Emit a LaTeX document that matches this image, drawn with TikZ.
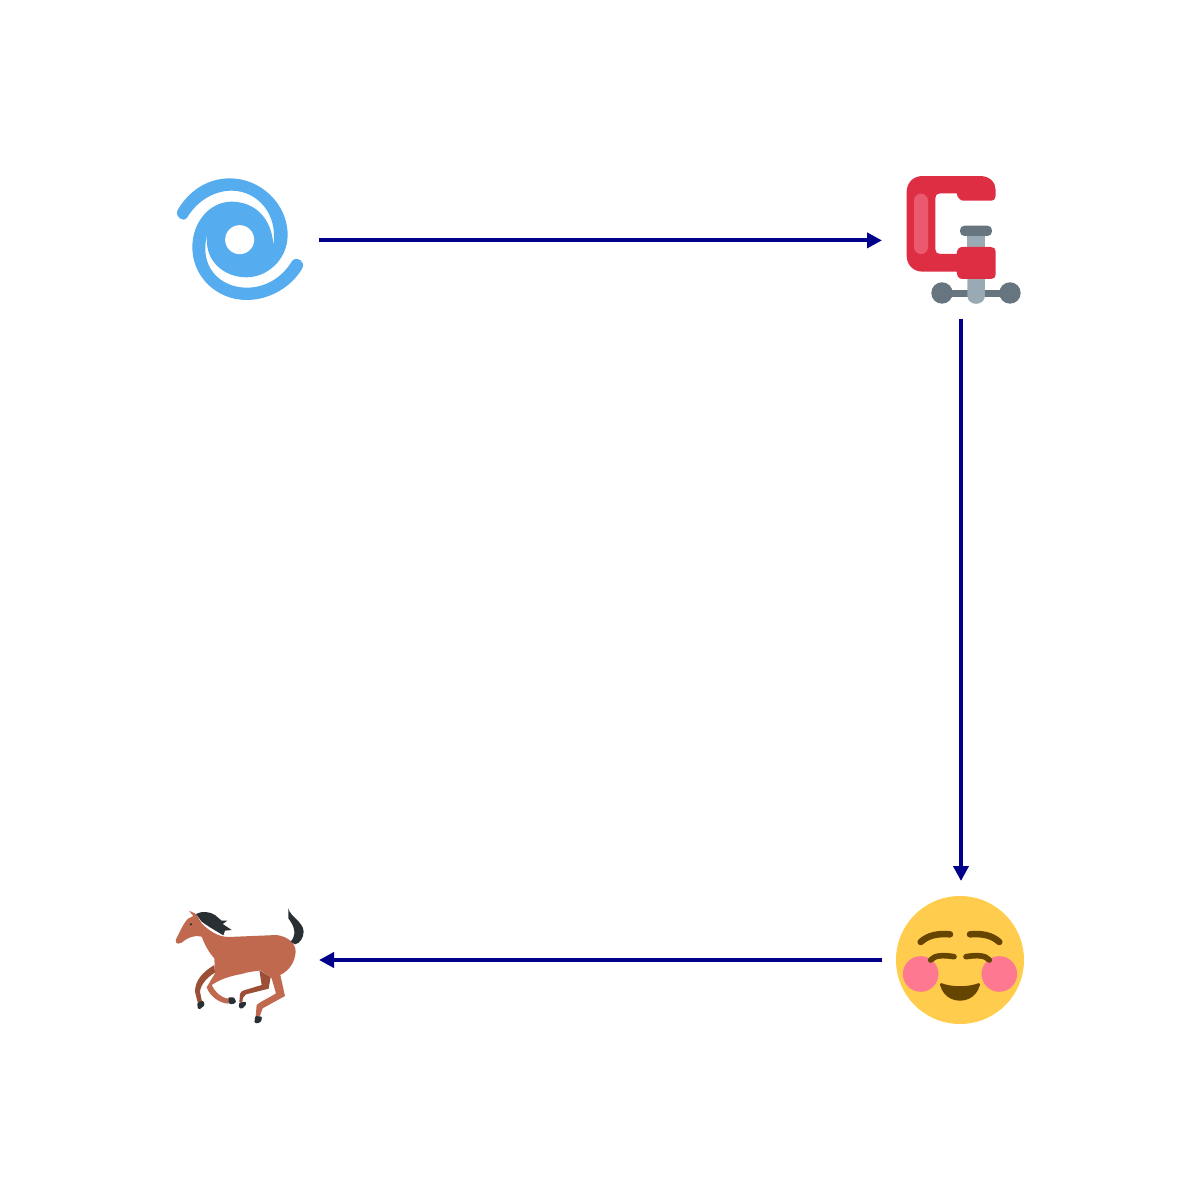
\documentclass[tikz,border=0pt]{standalone}
\usetikzlibrary{arrows.meta,positioning}

\definecolor{cycloneblue}{HTML}{55ACEE}
\definecolor{clampred}{HTML}{DD2E44}
\definecolor{clamplight}{HTML}{EA596E}
\definecolor{steeldark}{HTML}{66757F}
\definecolor{steellight}{HTML}{99AAB5}
\definecolor{faceyellow}{HTML}{FFCC4D}
\definecolor{cheekpink}{HTML}{FF7892}
\definecolor{facebrown}{HTML}{664500}
\definecolor{horsebrown}{HTML}{C1694F}
\definecolor{horsedark}{HTML}{9B4F36}
\definecolor{hairblack}{HTML}{292F33}
\definecolor{linkblue}{RGB}{0,0,139}

\begin{document}
\begin{tikzpicture}[
    x=1pt,
    y=-1pt,
    >={Triangle[length=15pt,width=15pt]},
    emoji spot/.style={
        rectangle,
        outer sep=0pt,
        inner sep=0pt,
        minimum size=158pt
    },
    link/.style={
        ->,
        color=linkblue,
        line width=4pt
    },
    zoomed/.style={
        shift={(#1)},
        x=0.3333pt,
        y=-0.3333pt
    }
]

\useasboundingbox (0,0) rectangle (1200,1200);

% Emoji places
\node[emoji spot] (cyclone) at (240,240.4) {};
\node[emoji spot] (clamp) at (961,240.4) {};
\node[emoji spot] (blush) at (961,960) {};
\node[emoji spot] (horse) at (240,960) {};

% Cyclone
\begin{scope}[zoomed={160,160}]
    \fill[cycloneblue] (142,222) .. controls (130,300) and (190,352) .. (260,352)
        .. controls (320,352) and (383,300) .. (383,225)
        .. controls (383,130) and (300,55) .. (210,55)
        .. controls (140,55) and (85,95) .. (53,150)
        .. controls (43,170) and (70,190) .. (82,172)
        .. controls (110,125) and (160,92) .. (215,92)
        .. controls (290,92) and (355,160) .. (340,255)
        .. controls (335,170) and (280,125) .. (215,125)
        .. controls (150,125) and (97,185) .. (97,262)
        .. controls (97,350) and (170,420) .. (260,420)
        .. controls (330,420) and (395,380) .. (427,325)
        .. controls (437,305) and (412,287) .. (397,302)
        .. controls (365,355) and (315,383) .. (260,383)
        .. controls (180,383) and (115,320) .. (142,222) -- cycle;
    \fill[white] (239,239) circle[radius=14.5pt];
\end{scope}

% Clamp
\begin{scope}[zoomed={880,160}]
    \fill[steeldark] (186,399) circle[radius=10.7pt];
    \fill[steeldark] (390,399) circle[radius=10.7pt];
    \fill[steeldark] (186,389) rectangle (390,410);
    \fill[steellight] (262,225) rectangle (315,300);
    \fill[steellight] (262,340) -- (315,340) -- (315,406)
        .. controls (315,440) and (262,440) .. (262,406) -- cycle;
    \fill[steeldark, rounded corners=4.5pt] (240,197) rectangle (336,228);
    \fill[clampred] (128,48) -- (300,48)
        .. controls (330,48) and (347,68) .. (347,90) -- (347,108)
        .. controls (347,116) and (342,122) .. (332,122) -- (250,122)
        .. controls (240,122) and (232,112) .. (230,100) -- (180,100)
        .. controls (171,100) and (166,106) .. (166,114) -- (166,268)
        .. controls (166,276) and (171,282) .. (180,282) -- (230,282)
        .. controls (230,270) and (236,261) .. (247,261) -- (333,261)
        .. controls (342,261) and (347,266) .. (347,275) -- (347,343)
        .. controls (347,352) and (342,357) .. (333,357) -- (247,357)
        .. controls (236,357) and (230,347) .. (230,335) -- (128,335)
        .. controls (100,335) and (80,315) .. (80,287) -- (80,96)
        .. controls (80,68) and (100,48) .. (128,48) -- cycle;
    \fill[clamplight, rounded corners=6.9pt] (102,101) rectangle (144,282);
\end{scope}

% Blushing face
\begin{scope}[zoomed={880,880}]
    \fill[faceyellow] (240,240) circle[radius=64pt];
    \fill[cheekpink] (122,282) circle[radius=17.8pt];
    \fill[cheekpink] (358,282) circle[radius=17.8pt];
    \begin{scope}[facebrown, line cap=round, line width=6.5pt]
        \draw (122,186) .. controls (145,165) and (175,160) .. (210,163);
        \draw (358,186) .. controls (335,165) and (305,160) .. (270,163);
        \draw[line width=5.6pt] (152,240) .. controls (165,225) and (190,225) .. (222,230);
        \draw[line width=5.6pt] (328,240) .. controls (315,225) and (290,225) .. (258,230);
    \end{scope}
    \fill[facebrown] (183,309) .. controls (215,322) and (265,322) .. (297,309)
        .. controls (302,312) and (300,316) .. (298,320)
        .. controls (290,345) and (268,362) .. (240,362)
        .. controls (212,362) and (190,345) .. (182,320)
        .. controls (180,316) and (178,312) .. (183,309) -- cycle;
\end{scope}

% Running horse
\begin{scope}[zoomed={160,890}]
    \fill[horsedark] (163,225) .. controls (130,245) and (105,270) .. (105,305)
        -- (113,337) -- (126,335) -- (120,305)
        .. controls (122,285) and (140,262) .. (165,248) -- cycle;
    \fill[horsedark] (298,240) -- (332,262) -- (326,296) -- (258,313)
        .. controls (250,318) and (248,325) .. (247,337) -- (238,337) -- (240,312)
        .. controls (242,305) and (247,302) .. (255,300) -- (305,285) -- cycle;
    \fill[horsebrown] (48,148) .. controls (60,125) and (70,100) .. (84,86)
        -- (100,78) -- (87,62) -- (108,72) -- (125,100)
        .. controls (150,125) and (175,140) .. (205,141)
        -- (350,135) .. controls (385,140) and (407,160) .. (407,185)
        .. controls (405,215) and (390,240) .. (361,255)
        -- (375,318) -- (308,355) -- (299,380) -- (287,380) -- (290,345)
        .. controls (300,335) and (325,325) .. (348,310)
        -- (335,265) -- (302,241)
        .. controls (280,245) and (265,245) .. (245,252)
        .. controls (210,258) and (180,268) .. (155,285)
        .. controls (165,305) and (180,322) .. (205,326) -- (205,341)
        .. controls (180,340) and (150,320) .. (140,292)
        -- (165,250) -- (163,205)
        .. controls (145,185) and (135,165) .. (125,140)
        .. controls (110,135) and (85,140) .. (65,158)
        .. controls (50,165) and (45,158) .. (48,148) -- cycle;
    \fill[hairblack] (108,72) .. controls (125,62) and (150,65) .. (165,75)
        -- (185,92) -- (202,92) -- (188,102) -- (215,120) -- (195,122)
        -- (190,136) -- (150,112) -- (125,95) -- cycle;
    \fill[hairblack] (385,55) .. controls (390,80) and (430,95) .. (431,125)
        .. controls (430,145) and (420,160) .. (405,163) -- (392,155)
        .. controls (410,135) and (405,110) .. (385,85) -- cycle;
    \fill[hairblack, rounded corners=1pt] (112,338) -- (130,332) -- (134,345) -- (120,358) -- (113,355) -- cycle;
    \fill[hairblack, rounded corners=1pt] (205,322) -- (222,322) -- (229,336) -- (218,343) -- (205,340) -- cycle;
    \fill[hairblack, rounded corners=1pt] (238,338) -- (258,335) -- (258,345) -- (245,357) -- (236,352) -- cycle;
    \fill[hairblack, rounded corners=1pt] (286,378) -- (306,380) -- (304,394) -- (292,401) -- (283,397) -- cycle;
    \fill[hairblack] (93,103) circle[radius=1.3pt];
\end{scope}

% Arrows between the emoji
\draw[link] (cyclone) -- (clamp);
\draw[link] (clamp) -- (blush);
\draw[link] (blush) -- (horse);

\end{tikzpicture}
\end{document}
